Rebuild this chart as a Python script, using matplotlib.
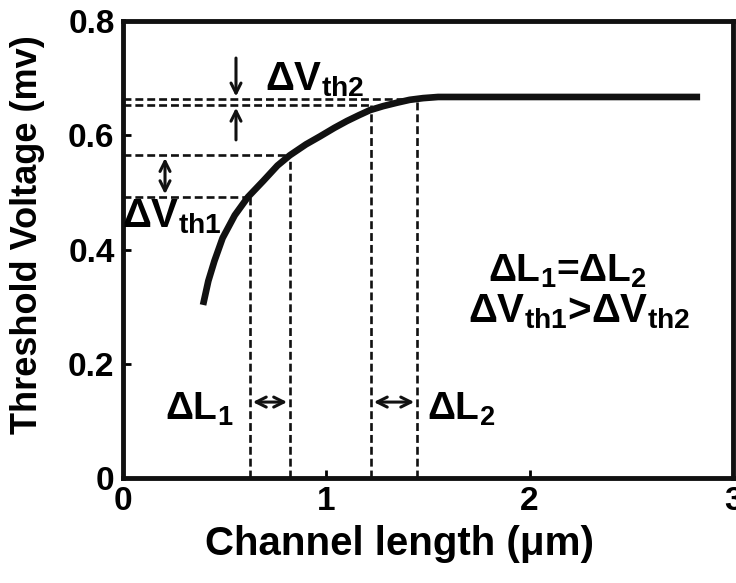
import matplotlib.pyplot as plt

plt.rcParams['font.family'] = ['Liberation Sans', 'DejaVu Sans']
plt.rcParams['font.weight'] = 'bold'
plt.rcParams['mathtext.fontset'] = 'custom'
plt.rcParams['mathtext.rm'] = 'Liberation Sans:bold'
plt.rcParams['mathtext.it'] = 'Liberation Sans:bold'
plt.rcParams['mathtext.bf'] = 'Liberation Sans:bold'

# threshold voltage curve
length = [0.394, 0.420, 0.450, 0.490, 0.550, 0.615, 0.690, 0.760, 0.821, 0.900,
          0.969, 1.040, 1.102, 1.160, 1.215, 1.280, 1.348, 1.410, 1.476, 1.550, 2.838]
vth = [0.303, 0.345, 0.380, 0.420, 0.460, 0.492, 0.520, 0.547, 0.565, 0.584,
       0.598, 0.613, 0.625, 0.635, 0.644, 0.651, 0.657, 0.662, 0.665, 0.667, 0.667]

# guide points (L, Vth) for the two equal steps
guide_L = [0.625, 0.821, 1.22, 1.446]
guide_V = [0.492, 0.565, 0.653, 0.663]

xticks = [0, 1, 2, 3]
yticks = [0, 0.2, 0.4, 0.6, 0.8]
ytick_labels = ['0', '0.2', '0.4', '0.6', '0.8']

fig = plt.figure(figsize=(7.36, 5.83), dpi=100)
ax = fig.add_axes([0.167, 0.180, 0.829, 0.784])

ax.plot(length, vth, color='#111111', lw=4.8, solid_capstyle='butt', solid_joinstyle='round')

dash = (0, (3, 1.5))
for L, V in zip(guide_L, guide_V):
    ax.plot([0, L], [V, V], color='#111111', lw=1.9, linestyle=dash)
    ax.plot([L, L], [0, V], color='#111111', lw=1.9, linestyle=dash)

arrow = dict(arrowstyle='->', color='#111111', lw=2.2, mutation_scale=18)
both = dict(arrowstyle='<->', color='#111111', lw=2.2, mutation_scale=18)

# delta Vth2: two arrows pointing at the gap
ax.annotate('', xy=(0.556, guide_V[3]), xytext=(0.556, 0.74), arrowprops=arrow)
ax.annotate('', xy=(0.556, guide_V[2]), xytext=(0.556, 0.587), arrowprops=arrow)
# delta Vth1
ax.annotate('', xy=(0.207, guide_V[1]), xytext=(0.207, guide_V[0]), arrowprops=both)
# delta L1 and L2
ax.annotate('', xy=(guide_L[1], 0.133), xytext=(guide_L[0], 0.133), arrowprops=both)
ax.annotate('', xy=(guide_L[3], 0.133), xytext=(guide_L[2], 0.133), arrowprops=both)

fs = 28
ax.text(0.70, 0.679, r'ΔV$_{th2}$', fontsize=29, ha='left', va='baseline')
ax.text(-0.005, 0.438, r'ΔV$_{th1}$', fontsize=29, ha='left', va='baseline')
ax.text(0.545, 0.1015, r'ΔL$_1$', fontsize=fs, ha='right', va='baseline')
ax.text(1.495, 0.1015, r'ΔL$_2$', fontsize=fs, ha='left', va='baseline')
ax.text(2.184, 0.343, r'ΔL$_1$=ΔL$_2$', fontsize=fs, ha='center', va='baseline')
ax.text(2.243, 0.273, r'ΔV$_{th1}$>ΔV$_{th2}$', fontsize=29, ha='center', va='baseline')

ax.set_xlim(0, 3)
ax.set_ylim(0, 0.8)
ax.set_xticks(xticks)
ax.set_xticklabels([str(t) for t in xticks])
ax.set_yticks(yticks)
ax.set_yticklabels(ytick_labels)
ax.tick_params(direction='in', length=6, width=2, labelsize=24, pad=6)

for s in ax.spines.values():
    s.set_linewidth(3.5)
    s.set_color('#111111')

ax.set_xlabel('Channel length (μm)', fontsize=29, fontweight='bold')
ax.set_ylabel('Threshold Voltage (mv)', fontsize=26, fontweight='bold')
ax.xaxis.set_label_coords(0.454, -0.103)
ax.yaxis.set_label_coords(-0.128, 0.532)

fig.savefig('out.png', dpi=100)
